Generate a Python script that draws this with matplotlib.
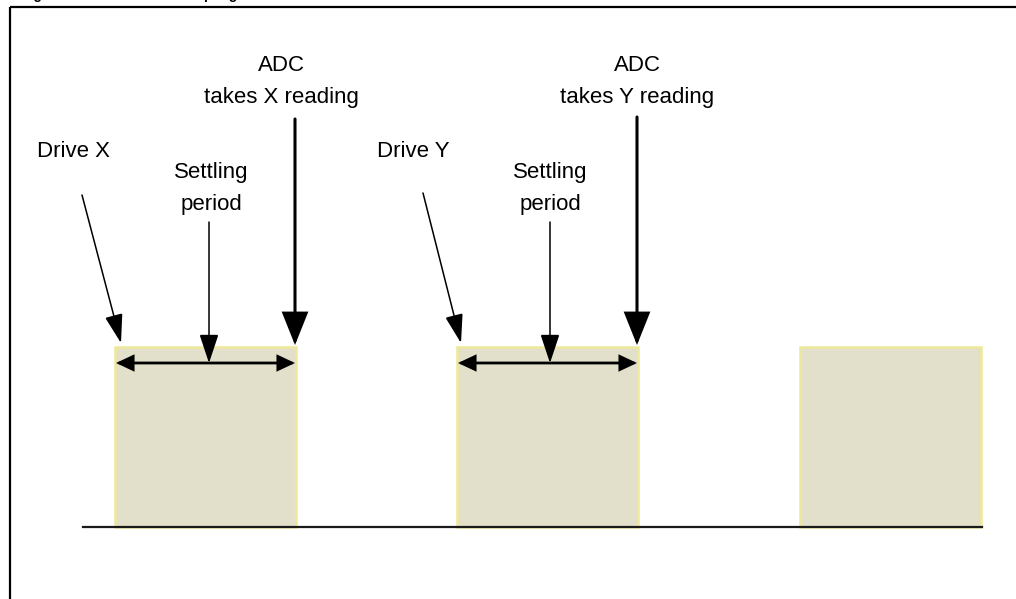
import matplotlib
matplotlib.use("Agg")
import matplotlib.pyplot as plt
from matplotlib.patches import Rectangle, FancyArrowPatch

# ---- data (pixel-like diagram coordinates) ----
box_starts = [115, 457, 800]
box_width = 181
box_top = 347
base_y = 527
base_x = [83, 982]

drive_labels = ["Drive X", "Drive Y"]
drive_label_x = [37, 377]
drive_tail = [(82, 195), (423, 193)]
drive_tip = [(121, 343), (461, 343)]

settle_label_x = [211, 550]
settle_x = [209, 550]

adc_labels = [("ADC", "takes X reading"), ("ADC", "takes Y reading")]
adc_label_x = [281, 637]
adc_x = [295, 637]
adc_top = [119, 117]

span_y = 363
title_text = "Figure 6. Touch screen sampling"

# ---- figure ----
fig = plt.figure(figsize=(10.16, 5.99), dpi=100)
ax = fig.add_axes([0, 0, 1, 1])
ax.set_xlim(0, 1016)
ax.set_ylim(599, 0)
ax.axis("off")

FONT = "Liberation Sans"
fs = 16

# frame
ax.plot([10, 10], [7, 599], color="black", lw=1.6, solid_capstyle="butt")
ax.plot([10, 1016], [7, 7], color="black", lw=1.6, solid_capstyle="butt")

# cut-off title (only the descenders show, as in the reference)
ax.text(21, -0.5, title_text, fontsize=10, fontweight="bold", family=FONT,
        ha="left", va="baseline")

# boxes
for x0 in box_starts:
    ax.add_patch(Rectangle((x0, box_top), box_width, base_y - box_top,
                           facecolor="#E2DFCB", edgecolor="#EEE89A", lw=1.8,
                           zorder=1))

# baseline
ax.plot(base_x, [base_y, base_y], color="#1a1a1a", lw=1.6, zorder=3)


def arrow(p0, p1, lw, hl, hw, style="-|>"):
    a = FancyArrowPatch(p0, p1, arrowstyle=f"{style},head_length={hl},head_width={hw}",
                        mutation_scale=1, lw=lw, color="black",
                        shrinkA=0, shrinkB=0, zorder=4, joinstyle="miter")
    ax.add_patch(a)


for i in range(2):
    x0 = box_starts[i]
    # drive label + arrow
    ax.text(drive_label_x[i], 157, drive_labels[i], fontsize=fs, family=FONT,
            ha="left", va="baseline")
    arrow(drive_tail[i], drive_tip[i], 1.1, 18, 5.6)
    # settling label + arrow
    ax.text(settle_label_x[i], 178, "Settling", fontsize=fs, family=FONT,
            ha="center", va="baseline")
    ax.text(settle_label_x[i], 210, "period", fontsize=fs, family=FONT,
            ha="center", va="baseline")
    arrow((settle_x[i], 222), (settle_x[i], span_y), 1.1, 18, 6)
    # ADC label + arrow
    ax.text(adc_label_x[i], 71, adc_labels[i][0], fontsize=fs, family=FONT,
            ha="center", va="baseline")
    ax.text(adc_label_x[i], 103, adc_labels[i][1], fontsize=fs, family=FONT,
            ha="center", va="baseline")
    arrow((adc_x[i], adc_top[i]), (adc_x[i], 345), 2.2, 20, 8)
    # double-headed span arrow
    arrow((x0 + 1, span_y), (x0 + box_width - 1, span_y), 2.0, 10, 4.7,
          style="<|-|>")

fig.savefig("out.png", dpi=100)
